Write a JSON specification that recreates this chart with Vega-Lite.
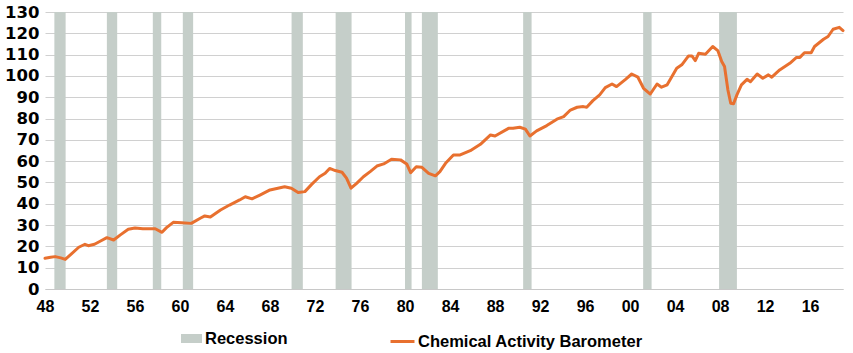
{
  "$schema": "https://vega.github.io/schema/vega-lite/v6.json",
  "autosize": "none",
  "width": 798,
  "height": 277,
  "padding": {"left": 45, "top": 12, "right": 10, "bottom": 64},
  "background": "white",
  "config": {"view": {"stroke": null}},
  "datasets": {
    "rec": [
      {"s": 1948.833, "e": 1949.833},
      {"s": 1953.5, "e": 1954.417},
      {"s": 1957.583, "e": 1958.333},
      {"s": 1960.25, "e": 1961.167},
      {"s": 1969.917, "e": 1970.917},
      {"s": 1973.833, "e": 1975.25},
      {"s": 1980.0, "e": 1980.583},
      {"s": 1981.5, "e": 1982.917},
      {"s": 1990.5, "e": 1991.25},
      {"s": 2001.167, "e": 2001.917},
      {"s": 2007.917, "e": 2009.5}
    ],
    "cab": [
      {"t": 1948.0, "v": 14.4}, {"t": 1948.5, "v": 14.9}, {"t": 1948.9, "v": 15.2}, {"t": 1949.4, "v": 14.6},
      {"t": 1949.8, "v": 13.9}, {"t": 1950.4, "v": 16.7}, {"t": 1951.0, "v": 19.6}, {"t": 1951.55, "v": 21.0},
      {"t": 1951.85, "v": 20.3}, {"t": 1952.4, "v": 21.0}, {"t": 1952.9, "v": 22.4}, {"t": 1953.5, "v": 24.1},
      {"t": 1954.1, "v": 23.0}, {"t": 1954.7, "v": 25.4}, {"t": 1955.4, "v": 28.0}, {"t": 1956.0, "v": 28.6},
      {"t": 1956.7, "v": 28.3}, {"t": 1957.8, "v": 28.3}, {"t": 1958.4, "v": 26.6}, {"t": 1958.8, "v": 28.8},
      {"t": 1959.4, "v": 31.3}, {"t": 1960.15, "v": 31.1}, {"t": 1961.0, "v": 30.8}, {"t": 1961.8, "v": 33.2},
      {"t": 1962.2, "v": 34.3}, {"t": 1962.7, "v": 33.8}, {"t": 1963.6, "v": 37.1}, {"t": 1964.4, "v": 39.4},
      {"t": 1965.3, "v": 41.8}, {"t": 1965.8, "v": 43.3}, {"t": 1966.4, "v": 42.3}, {"t": 1967.1, "v": 44.1},
      {"t": 1968.0, "v": 46.5}, {"t": 1969.3, "v": 48.0}, {"t": 1969.9, "v": 47.3}, {"t": 1970.5, "v": 45.3},
      {"t": 1971.1, "v": 45.7}, {"t": 1971.7, "v": 49.1}, {"t": 1972.4, "v": 52.7}, {"t": 1972.9, "v": 54.3},
      {"t": 1973.3, "v": 56.6}, {"t": 1973.8, "v": 55.6}, {"t": 1974.4, "v": 54.8}, {"t": 1974.8, "v": 52.0},
      {"t": 1975.2, "v": 47.3}, {"t": 1975.7, "v": 49.6}, {"t": 1976.3, "v": 52.7}, {"t": 1976.9, "v": 55.1},
      {"t": 1977.5, "v": 57.7}, {"t": 1978.1, "v": 58.7}, {"t": 1978.8, "v": 60.9}, {"t": 1979.6, "v": 60.6},
      {"t": 1980.15, "v": 58.7}, {"t": 1980.5, "v": 54.6}, {"t": 1981.0, "v": 57.4}, {"t": 1981.5, "v": 57.1},
      {"t": 1982.1, "v": 54.3}, {"t": 1982.7, "v": 53.1}, {"t": 1983.1, "v": 55.1}, {"t": 1983.6, "v": 59.0},
      {"t": 1984.3, "v": 62.9}, {"t": 1984.9, "v": 62.9}, {"t": 1985.8, "v": 64.9}, {"t": 1986.7, "v": 67.9},
      {"t": 1987.6, "v": 72.3}, {"t": 1988.0, "v": 71.8}, {"t": 1989.2, "v": 75.4}, {"t": 1989.6, "v": 75.4},
      {"t": 1990.2, "v": 75.9}, {"t": 1990.7, "v": 75.0}, {"t": 1991.1, "v": 71.8}, {"t": 1991.7, "v": 74.2},
      {"t": 1992.6, "v": 76.7}, {"t": 1993.5, "v": 79.7}, {"t": 1994.1, "v": 80.9}, {"t": 1994.7, "v": 84.0},
      {"t": 1995.3, "v": 85.3}, {"t": 1995.85, "v": 85.6}, {"t": 1996.15, "v": 85.3}, {"t": 1996.7, "v": 88.4},
      {"t": 1997.3, "v": 91.1}, {"t": 1997.8, "v": 94.5}, {"t": 1998.4, "v": 96.2}, {"t": 1998.8, "v": 95.0},
      {"t": 1999.6, "v": 98.4}, {"t": 2000.15, "v": 100.9}, {"t": 2000.7, "v": 99.4}, {"t": 2001.2, "v": 94.2},
      {"t": 2001.8, "v": 91.5}, {"t": 2002.4, "v": 96.2}, {"t": 2002.8, "v": 94.7}, {"t": 2003.3, "v": 95.8},
      {"t": 2004.15, "v": 103.6}, {"t": 2004.6, "v": 105.2}, {"t": 2005.2, "v": 109.4}, {"t": 2005.5, "v": 109.4},
      {"t": 2005.8, "v": 107.2}, {"t": 2006.1, "v": 110.6}, {"t": 2006.7, "v": 110.2}, {"t": 2007.35, "v": 113.8},
      {"t": 2007.8, "v": 111.9}, {"t": 2008.15, "v": 106.8}, {"t": 2008.4, "v": 104.4}, {"t": 2008.7, "v": 93.4},
      {"t": 2008.95, "v": 87.2}, {"t": 2009.2, "v": 86.9}, {"t": 2009.5, "v": 91.1}, {"t": 2009.9, "v": 95.8},
      {"t": 2010.4, "v": 98.4}, {"t": 2010.7, "v": 97.3}, {"t": 2011.3, "v": 100.9}, {"t": 2011.8, "v": 98.9},
      {"t": 2012.3, "v": 100.5}, {"t": 2012.6, "v": 99.4}, {"t": 2013.3, "v": 102.8}, {"t": 2014.2, "v": 105.9},
      {"t": 2014.8, "v": 108.7}, {"t": 2015.1, "v": 108.7}, {"t": 2015.5, "v": 110.9}, {"t": 2016.1, "v": 110.9},
      {"t": 2016.4, "v": 113.8}, {"t": 2017.2, "v": 117.2}, {"t": 2017.6, "v": 118.5}, {"t": 2018.05, "v": 121.9},
      {"t": 2018.6, "v": 122.8}, {"t": 2018.93, "v": 121.3}
    ]
  },
  "layer": [
    {
      "data": {"name": "rec"},
      "mark": {"type": "rect"},
      "encoding": {
        "x": {
          "field": "s", "type": "quantitative",
          "scale": {"domain": [1948, 2018.93], "nice": false, "zero": false},
          "axis": {
            "values": [1948, 1952, 1956, 1960, 1964, 1968, 1972, 1976, 1980, 1984, 1988, 1992, 1996, 2000, 2004, 2008, 2012, 2016],
            "tickCount": 40,
            "labelExpr": "slice('0' + (datum.value % 100), -2)",
            "title": null, "grid": false, "ticks": false,
            "domainColor": "#c8c8c8", "domainWidth": 1,
            "labelFont": "Liberation Sans", "labelFontSize": 16, "labelFontWeight": "bold",
            "labelColor": "#000000", "labelPadding": 9, "labelFlush": false, "labelOverlap": false
          }
        },
        "x2": {"field": "e"},
        "y": {
          "datum": 0, "type": "quantitative",
          "scale": {"domain": [0, 130], "nice": false},
          "axis": {
            "values": [0, 10, 20, 30, 40, 50, 60, 70, 80, 90, 100, 110, 120, 130],
            "tickCount": 40,
            "title": null, "domain": false, "ticks": false,
            "grid": true, "gridColor": "#d0d0d0", "gridWidth": 1,
            "labelFont": "DejaVu Sans", "labelFontSize": 16.5, "labelFontWeight": "bold",
            "labelColor": "#000000", "labelPadding": 6, "labelOverlap": false, "labelFlush": false
          }
        },
        "y2": {"datum": 130},
        "fill": {
          "datum": "Recession",
          "scale": {"range": ["#c5cec9"]},
          "legend": {
            "orient": "none", "legendX": 136, "legendY": 316, "title": null,
            "symbolType": "M-1,-0.43H1V0.43H-1Z", "symbolSize": 441, "symbolStrokeWidth": 0,
            "labelFont": "Liberation Sans", "labelFontSize": 16.5, "labelFontWeight": "bold",
            "labelColor": "#000000", "labelOffset": 3, "labelLimit": 400
          }
        }
      }
    },
    {
      "data": {"name": "cab"},
      "mark": {"type": "line", "strokeWidth": 3, "strokeJoin": "round", "strokeCap": "round"},
      "encoding": {
        "x": {"field": "t", "type": "quantitative"},
        "y": {"field": "v", "type": "quantitative"},
        "stroke": {
          "datum": "Chemical Activity Barometer",
          "scale": {"range": ["#e8702f"]},
          "legend": {
            "orient": "none", "legendX": 344, "legendY": 316, "title": null,
            "symbolType": "stroke", "symbolSize": 576, "symbolStrokeWidth": 3,
            "labelFont": "Liberation Sans", "labelFontSize": 16.5, "labelFontWeight": "bold",
            "labelColor": "#000000", "labelOffset": 2, "labelLimit": 400
          }
        }
      }
    }
  ]
}
